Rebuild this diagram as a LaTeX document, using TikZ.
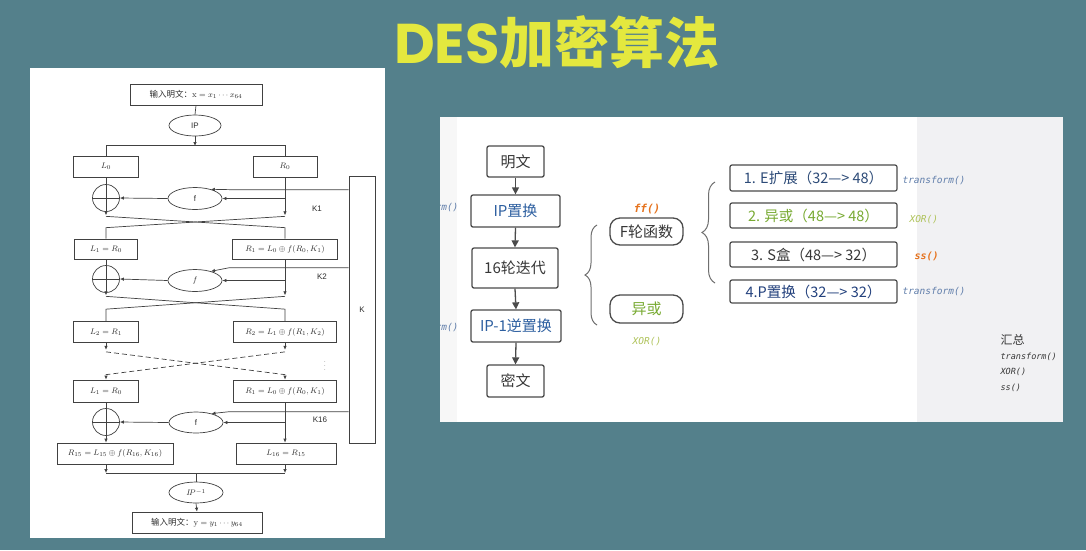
\documentclass[tikz,border=0pt]{standalone}
\usepackage{fontspec}
\usetikzlibrary{shapes.geometric,arrows.meta,decorations.pathreplacing}
\newfontfamily\cjk{Noto Sans CJK SC}
\newfontfamily\titlelat{Poppins}
\newfontfamily\codefont{DejaVu Sans Mono}
\newfontfamily\arialfont{Liberation Sans}
\definecolor{bg}{RGB}{84,128,139}
\definecolor{ttl}{RGB}{228,232,62}
\definecolor{lline}{RGB}{65,65,65}
\definecolor{ltext}{RGB}{45,45,45}
\definecolor{rline}{RGB}{75,75,75}
\definecolor{rtext}{RGB}{55,55,55}
\definecolor{ipblue}{RGB}{45,95,160}
\definecolor{codeblue}{RGB}{95,125,170}
\definecolor{xorgreen}{RGB}{175,195,90}
\definecolor{stepgreen}{RGB}{120,170,50}
\definecolor{ssorange}{RGB}{230,115,30}
\definecolor{stepone}{RGB}{45,75,120}
\definecolor{stepfour}{RGB}{35,65,125}
\definecolor{sidegray}{RGB}{241,241,243}
\begin{document}
\begin{tikzpicture}[x=1pt,y=-1pt,
  lbox/.style={draw=lline,line width=0.7pt,inner sep=0pt,minimum height=21pt,
    text=ltext,font=\fontsize{8.5}{10}\selectfont},
  lell/.style={draw=lline,line width=0.7pt,ellipse,inner sep=0pt,
    minimum width=54pt,minimum height=22pt,text=ltext,font=\arialfont\fontsize{8}{9}\selectfont},
  xorc/.style={draw=lline,line width=0.7pt,circle,inner sep=0pt,minimum size=27pt,
    path picture={\draw[lline,line width=0.7pt] (path picture bounding box.west) -- (path picture bounding box.east);}},
  ln/.style={draw=lline,line width=0.7pt},
  arr/.style={ln,-{Latex[length=4pt,width=3.5pt]}},
  klabel/.style={text=ltext,font=\arialfont\fontsize{8}{9}\selectfont},
  rbox/.style={draw=rline,line width=1.3pt,rounded corners=2pt,inner sep=0pt,
    text=rtext,font=\cjk\fontsize{15}{18}\selectfont},
  pill/.style={rbox,rounded corners=10pt,minimum width=73pt},
  stepbox/.style={draw=rline,line width=1.2pt,rounded corners=2pt,inner sep=0pt,
    minimum width=167pt,font=\cjk\fontsize{14.5}{17}\selectfont},
  rarr/.style={draw=rline,line width=1.3pt,-{Triangle[length=7pt,width=7pt]}},
  code/.style={font=\codefont\itshape\fontsize{9.5}{11}\selectfont},
  rbrace/.style={draw=rline!80,line width=1pt,decorate}
]
\useasboundingbox (0,0) rectangle (1086,550);
\fill[bg] (0,0) rectangle (1086,550);

% title
\node (title) at (557,42) {\color{ttl}{\titlelat\bfseries\fontsize{56}{64}\selectfont DES}{\cjk\bfseries\fontsize{55}{64}\selectfont 加密算法}};

% ---------------- left panel: DES round structure ----------------
\fill[white] (30,68) rectangle (385,538);

\node[lbox,minimum width=132pt] (in) at (196,94.5) {{\cjk 输入明文：}$\mathrm{x}=x_1\cdots x_{64}$};
\node[lell,minimum width=52pt,minimum height=21pt] (ip) at (195,125.5) {IP};
\node[lbox,minimum width=65pt] (L0) at (106,166.5) {$L_0$};
\node[lbox,minimum width=64pt] (R0) at (285,166.5) {$R_0$};
\node[xorc] (x1) at (106,198) {};
\node[lell] (f1) at (195,198.5) {f};

\node[lbox,minimum width=63pt,minimum height=20pt] (L1) at (106,249) {$L_1=R_0$};
\node[lbox,minimum width=105pt,minimum height=20pt] (R1) at (285,249) {$R_1=L_0\oplus f(R_0,K_1)$};
\node[xorc] (x2) at (106,279) {};
\node[lell] (f2) at (195,280.5) {$f$};

\node[lbox,minimum width=65pt] (L2) at (106,332) {$L_2=R_1$};
\node[lbox,minimum width=103pt] (R2) at (285,332) {$R_2=L_1\oplus f(R_1,K_2)$};

\node[lbox,minimum width=65pt,minimum height=22pt] (L1b) at (106,391) {$L_1=R_0$};
\node[lbox,minimum width=103pt,minimum height=22pt] (R1b) at (285,391) {$R_1=L_0\oplus f(R_0,K_1)$};
\node[xorc] (x3) at (106,422) {};
\node[lell,minimum height=21pt] (f3) at (196,422.5) {f};

\node[lbox,minimum width=116pt] (R15) at (115,453.5) {$R_{15}=L_{15}\oplus f(R_{16},K_{16})$};
\node[lbox,minimum width=100pt] (L16) at (286,453.5) {$L_{16}=R_{15}$};
\node[lell,minimum height=21pt] (ipinv) at (196,492.5) {$I\!P^{-1}$};
\node[lbox,minimum width=130pt] (out) at (197,522.5) {{\cjk 输入明文：}$\mathrm{y}=y_1\cdots y_{64}$};

\node[draw=lline,line width=0.7pt,minimum width=26pt,minimum height=267pt,inner sep=0pt] (kbox) at (362,309.5) {};
\node[klabel] (klab) at (362,310) {K};
\node[klabel] (k1lab) at (317,209) {K1};
\node[klabel] (k2lab) at (322,277) {K2};
\node[klabel] (k16lab) at (320,420) {K16};
\node[text=ltext,font=\fontsize{6}{6}\selectfont] (dots) at (325,363) {$\vdots$};

% initial permutation and split
\coordinate (split) at (195,146);
\draw[ln] (in.south) -- (ip.north);
\draw[arr] (ip.south) -- (split);
\draw[ln] (L0.north) -- ++(0,-10) -| (R0.north);

% round 1
\draw[arr] (L0.south) -- ++(0,38);
\draw[arr] (R0.south) -- ++(0,38);
\draw[arr] (R0.south |- f1) -- (f1.east);
\draw[arr] (f1.west) -- (x1.east);
\draw[arr] ([yshift=-14pt]kbox.north west) -- ++(-119,0) -- (f1.30);
\draw[ln] (L1.north) -- ++(0,-11) -- ([yshift=-39pt]R0.south);
\draw[ln] (R1.north) -- ++(0,-11) -- ([yshift=-39pt]L0.south);

% round 2
\draw[arr] (L1.south) -- ++(0,36);
\draw[arr] (R1.south) -- ++(0,36);
\draw[arr] (R1.south |- f2) -- (f2.east);
\draw[arr] (f2.west) -- (x2.east);
\draw[arr] ([yshift=-92pt]kbox.north west) -- ++(-119,0) -- (f2.30);
\draw[ln] (L2.north) -- ++(0,-12) -- ([yshift=-37pt]R1.south);
\draw[ln] (R2.north) -- ++(0,-12) -- ([yshift=-37pt]L1.south);

% rounds 3 .. 15
\draw[arr] (L2.south) -- ++(0,7);
\draw[arr] (R2.south) -- ++(0,7);
\draw[arr,dash pattern=on 5pt off 3pt] ([yshift=-9pt]L2.south) -- ([yshift=5pt]R1b.north) -- (R1b.north);
\draw[arr,dash pattern=on 5pt off 3pt] ([yshift=-9pt]R2.south) -- ([yshift=5pt]L1b.north) -- (L1b.north);

% round 16
\draw[arr] (L1b.south) -- (L1b.south |- R15.north);
\draw[arr] (R1b.south) -- (R1b.south |- L16.north);
\draw[arr] (R1b.south |- f3) -- (f3.east);
\draw[arr] (f3.west) -- (x3.east);
\draw[arr] ([yshift=-236pt]kbox.north west) -- ++(-119,0) -- (f3.30);

% final permutation
\coordinate (jl) at (106,473);
\coordinate (jr) at (285,473);
\coordinate (jm) at (196,473);
\draw[arr] (R15.south -| jl) -- (jl);
\draw[arr] (L16.south -| jr) -- (jr);
\draw[ln] (jl) -- (jr);
\draw[ln] (jm) -- (ipinv.north);
\draw[arr] (ipinv.south) -- (out.north);

% ---------------- right panel: DES outline ----------------
\fill[white] (440,117) rectangle (1063,422);
\fill[black!3] (440,117) rectangle (457,422);
\fill[sidegray] (917,117) rectangle (1063,422);

\begin{scope}
  \clip (440,117) rectangle (1063,422);
  \node[code,text=codeblue,anchor=east] (cut1) at (462,208) {transform()};
  \node[code,text=codeblue,anchor=east] (cut2) at (462,328) {transform()};
\end{scope}

\node[rbox,minimum width=57pt,minimum height=31pt] (mw) at (515.5,161.5) {明文};
\node[rbox,minimum width=89pt,minimum height=32pt,text=ipblue] (ipz) at (515.5,211) {IP置换};
\node[rbox,minimum width=86pt,minimum height=40pt] (it) at (515,268) {16轮迭代};
\node[rbox,minimum width=90pt,minimum height=32pt,text=ipblue] (ipinvz) at (516,326) {IP-1逆置换};
\node[rbox,minimum width=57pt,minimum height=32pt] (mi) at (515.5,381) {密文};

\draw[rarr] (mw.south) -- (ipz.north);
\draw[rarr] (ipz.south) -- (it.north);
\draw[rarr] (it.south) -- (ipinvz.north);
\draw[rarr] (ipinvz.south) -- (mi.north);

\coordinate (b1s) at (597,325);
\coordinate (b1e) at (597,225);
\draw[rbrace,decoration={brace,amplitude=12pt}] (b1s) -- (b1e);

\node[pill,minimum height=27pt] (fr) at (646.5,231.5) {F轮函数};
\node[pill,minimum height=28pt,text=stepgreen] (xr) at (646.5,309) {异或};
\node[font=\codefont\bfseries\itshape\fontsize{11}{12}\selectfont,text=ssorange] (ffl) at (647,209) {ff()};
\node[code,text=xorgreen] (xorl) at (647,342) {XOR()};

\coordinate (b2s) at (715,283);
\coordinate (b2e) at (715,182);
\draw[rbrace,decoration={brace,amplitude=13pt}] (b2s) -- (b2e);

\node[stepbox,minimum height=26pt,text=stepone] (s1) at (813.5,178) {1. E扩展（32—> 48）};
\node[stepbox,minimum height=25pt,text=stepgreen] (s2) at (813.5,215.5) {2. 异或（48—> 48）};
\node[stepbox,minimum height=25pt,text=rtext] (s3) at (813.5,254.5) {3. S盒（48—> 32）};
\node[stepbox,minimum height=23pt,text=stepfour] (s4) at (813.5,291.5) {4.P置换（32—> 32）};

\node[code,text=codeblue,anchor=west] (t1) at (899,181) {transform()};
\node[code,text=xorgreen,anchor=west] (t2) at (906,220) {XOR()};
\node[font=\codefont\bfseries\itshape\fontsize{10}{12}\selectfont,text=ssorange,anchor=west] (t3) at (911,256) {ss()};
\node[code,text=codeblue,anchor=west] (t4) at (899,292) {transform()};

\node[anchor=west,text=rtext,font=\cjk\fontsize{12}{14}\selectfont] (sum) at (997,340) {汇总};
\node[anchor=west,text=rtext,font=\codefont\itshape\fontsize{8.5}{10}\selectfont] (sum1) at (997,357) {transform()};
\node[anchor=west,text=rtext,font=\codefont\itshape\fontsize{8.5}{10}\selectfont] (sum2) at (997,372) {XOR()};
\node[anchor=west,text=rtext,font=\codefont\itshape\fontsize{8.5}{10}\selectfont] (sum3) at (997,388) {ss()};
\end{tikzpicture}
\end{document}
